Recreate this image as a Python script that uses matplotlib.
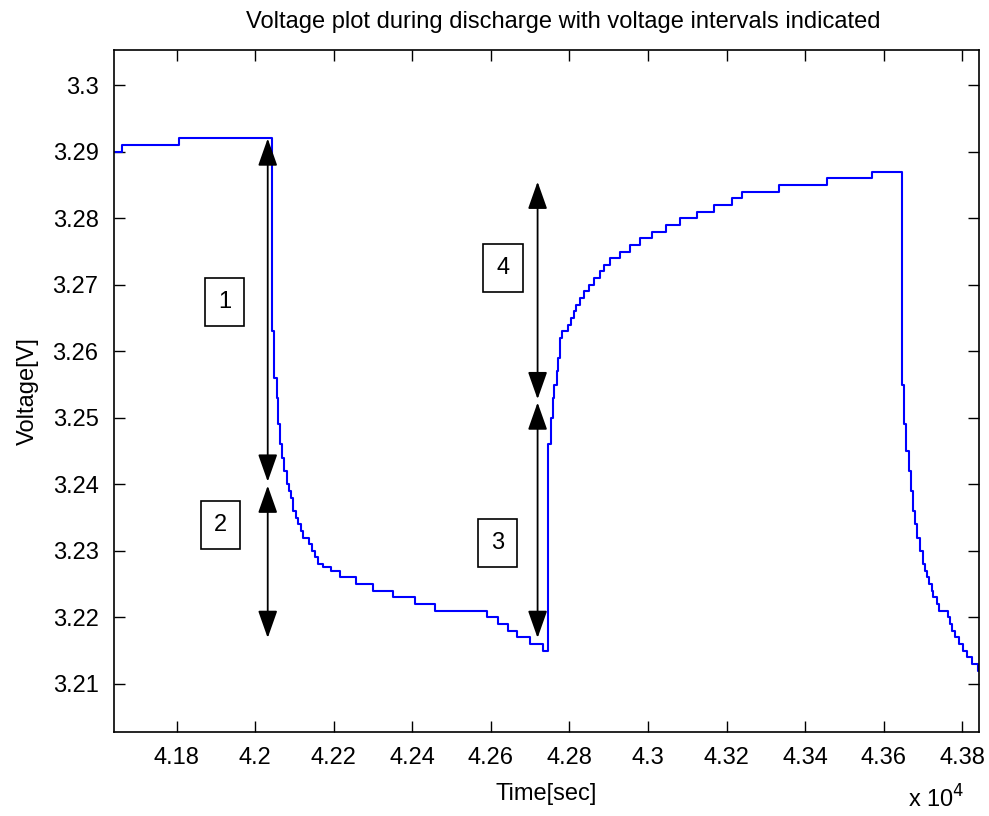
import matplotlib
matplotlib.use('Agg')
import matplotlib.pyplot as plt
from matplotlib.ticker import FuncFormatter, MultipleLocator

plt.rcParams['font.family'] = ['Liberation Sans', 'DejaVu Sans']

# step data (time in sec, voltage in V), value holds until next time
t_sec = [41640, 41660, 41806, 42044, 42049, 42055, 42059, 42063, 42069, 42074,
         42080, 42086, 42092, 42097, 42103, 42110, 42116, 42123, 42138, 42144,
         42152, 42161, 42173, 42194, 42216, 42257, 42301, 42352, 42407, 42458,
         42589, 42619, 42644, 42666, 42700, 42732, 42746, 42753, 42757, 42761,
         42768, 42772, 42776, 42782, 42797, 42803, 42812, 42818, 42827, 42837,
         42850, 42863, 42878, 42889, 42903, 42929, 42954, 42980, 43011, 43046,
         43081, 43126, 43168, 43214, 43240, 43333, 43455, 43571, 43647, 43652,
         43658, 43664, 43669, 43675, 43679, 43685, 43692, 43699, 43705, 43711,
         43716, 43722, 43726, 43735, 43740, 43764, 43770, 43775, 43781, 43791,
         43801, 43811, 43826, 43841, 43845]
v_volt = [3.290, 3.291, 3.292, 3.263, 3.256, 3.253, 3.249, 3.246, 3.244, 3.242,
          3.240, 3.239, 3.238, 3.236, 3.235, 3.234, 3.233, 3.232, 3.231, 3.230,
          3.229, 3.228, 3.2276, 3.227, 3.226, 3.225, 3.224, 3.223, 3.222, 3.221,
          3.220, 3.219, 3.218, 3.217, 3.216, 3.215, 3.246, 3.250, 3.253, 3.255,
          3.257, 3.259, 3.262, 3.263, 3.264, 3.265, 3.266, 3.267, 3.268, 3.269,
          3.270, 3.271, 3.272, 3.273, 3.274, 3.275, 3.276, 3.277, 3.278, 3.279,
          3.280, 3.281, 3.282, 3.283, 3.284, 3.285, 3.286, 3.287, 3.255, 3.249,
          3.245, 3.242, 3.239, 3.236, 3.234, 3.232, 3.230, 3.228, 3.227, 3.226,
          3.225, 3.224, 3.223, 3.222, 3.221, 3.220, 3.219, 3.218, 3.217, 3.216,
          3.215, 3.214, 3.213, 3.212, 3.212]

# voltage interval arrows: x position, lower end, upper end
arrow_t = [42032, 42032, 42719, 42719]
arrow_lo = [3.2404, 3.2169, 3.2169, 3.2528]
arrow_hi = [3.2920, 3.2398, 3.2523, 3.2855]

# numbered boxes
box_labels = ['1', '2', '3', '4']
box_t = [41923, 41911, 42618, 42631]
box_v = [3.2674, 3.2339, 3.2312, 3.2725]

fig = plt.figure(figsize=(9.89, 8.16), dpi=100)
ax = fig.add_axes([0.115, 0.1033, 0.875, 0.8354])

ax.step(t_sec, v_volt, where='post', color='#0000ff', lw=1.5)

for x, lo, hi in zip(arrow_t, arrow_lo, arrow_hi):
    ax.annotate('', xy=(x, hi), xytext=(x, lo),
                arrowprops=dict(arrowstyle='<|-|>,head_length=0.85,head_width=0.3',
                                color='black', lw=1.3, shrinkA=0, shrinkB=0,
                                mutation_scale=20))

for lab, x, y in zip(box_labels, box_t, box_v):
    ax.text(x, y, lab, fontsize=17, ha='center', va='center',
            bbox=dict(boxstyle='square,pad=0.55', fc='white', ec='black', lw=1.2))

ax.set_xlim(41640, 43843)
ax.set_ylim(3.2028, 3.3053)
ax.xaxis.set_major_locator(MultipleLocator(200))
ax.yaxis.set_major_locator(MultipleLocator(0.01))
ax.xaxis.set_major_formatter(FuncFormatter(lambda v, p: '%g' % round(v / 1e4, 4)))
ax.yaxis.set_major_formatter(FuncFormatter(lambda v, p: '%g' % round(v, 4)))
ax.tick_params(direction='in', length=8, width=1, top=True, right=True,
               labelsize=17, pad=11)
for s in ax.spines.values():
    s.set_linewidth(1.2)

ax.set_title('Voltage plot during discharge with voltage intervals indicated',
             fontsize=17, pad=16, x=0.52)
ax.set_xlabel('Time[sec]', fontsize=17, labelpad=10)
ax.set_ylabel('Voltage[V]', fontsize=17, labelpad=10)
fig.text(0.975, 0.004, r'x 10$^4$', fontsize=17, ha='right', va='bottom')

fig.savefig('out.png', dpi=100)
